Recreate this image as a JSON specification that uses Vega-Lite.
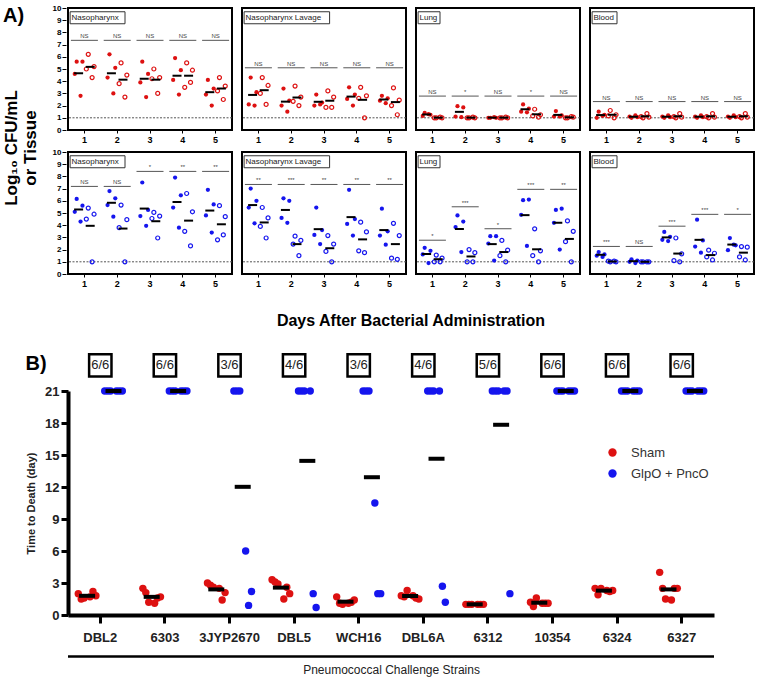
{
  "$schema": "https://vega.github.io/schema/vega-lite/v6.json",
  "padding": {"left": 3, "top": 4, "right": 4, "bottom": 2},
  "config": {
    "font": "Liberation Sans",
    "view": {"stroke": "black", "strokeWidth": 2},
    "axis": {"grid": false, "labelOverlap": false}
  },
  "datasets": {
    "panelA": [
      {"s":"top","t":"Nasopharynx","d":"1","g":"F","r":1,"v":5.6},{"s":"top","t":"Nasopharynx","d":"1","g":"F","r":2,"v":5.6},{"s":"top","t":"Nasopharynx","d":"1","g":"F","r":3,"v":4.6},{"s":"top","t":"Nasopharynx","d":"1","g":"F","r":4,"v":2.8},
      {"s":"top","t":"Nasopharynx","d":"1","g":"O","r":1,"v":6.2},{"s":"top","t":"Nasopharynx","d":"1","g":"O","r":2,"v":5.2},{"s":"top","t":"Nasopharynx","d":"1","g":"O","r":3,"v":5.0},{"s":"top","t":"Nasopharynx","d":"1","g":"O","r":4,"v":4.3},
      {"s":"top","t":"Nasopharynx","d":"2","g":"F","r":1,"v":6.2},{"s":"top","t":"Nasopharynx","d":"2","g":"F","r":2,"v":5.1},{"s":"top","t":"Nasopharynx","d":"2","g":"F","r":3,"v":4.3},{"s":"top","t":"Nasopharynx","d":"2","g":"F","r":4,"v":3.0},
      {"s":"top","t":"Nasopharynx","d":"2","g":"O","r":1,"v":5.5},{"s":"top","t":"Nasopharynx","d":"2","g":"O","r":2,"v":4.5},{"s":"top","t":"Nasopharynx","d":"2","g":"O","r":3,"v":3.8},{"s":"top","t":"Nasopharynx","d":"2","g":"O","r":4,"v":2.7},
      {"s":"top","t":"Nasopharynx","d":"3","g":"F","r":1,"v":5.6},{"s":"top","t":"Nasopharynx","d":"3","g":"F","r":2,"v":4.6},{"s":"top","t":"Nasopharynx","d":"3","g":"F","r":3,"v":3.9},{"s":"top","t":"Nasopharynx","d":"3","g":"F","r":4,"v":2.7},
      {"s":"top","t":"Nasopharynx","d":"3","g":"O","r":1,"v":5.0},{"s":"top","t":"Nasopharynx","d":"3","g":"O","r":2,"v":4.3},{"s":"top","t":"Nasopharynx","d":"3","g":"O","r":3,"v":4.2},{"s":"top","t":"Nasopharynx","d":"3","g":"O","r":4,"v":3.0},
      {"s":"top","t":"Nasopharynx","d":"4","g":"F","r":1,"v":5.9},{"s":"top","t":"Nasopharynx","d":"4","g":"F","r":2,"v":4.9},{"s":"top","t":"Nasopharynx","d":"4","g":"F","r":3,"v":4.1},{"s":"top","t":"Nasopharynx","d":"4","g":"F","r":4,"v":2.9},
      {"s":"top","t":"Nasopharynx","d":"4","g":"O","r":1,"v":5.5},{"s":"top","t":"Nasopharynx","d":"4","g":"O","r":2,"v":4.9},{"s":"top","t":"Nasopharynx","d":"4","g":"O","r":3,"v":3.5},{"s":"top","t":"Nasopharynx","d":"4","g":"O","r":4,"v":3.9},
      {"s":"top","t":"Nasopharynx","d":"5","g":"F","r":1,"v":4.1},{"s":"top","t":"Nasopharynx","d":"5","g":"F","r":2,"v":3.4},{"s":"top","t":"Nasopharynx","d":"5","g":"F","r":3,"v":2.9},{"s":"top","t":"Nasopharynx","d":"5","g":"F","r":4,"v":2.0},
      {"s":"top","t":"Nasopharynx","d":"5","g":"O","r":1,"v":4.3},{"s":"top","t":"Nasopharynx","d":"5","g":"O","r":2,"v":3.6},{"s":"top","t":"Nasopharynx","d":"5","g":"O","r":3,"v":3.2},{"s":"top","t":"Nasopharynx","d":"5","g":"O","r":4,"v":2.5},
      {"s":"top","t":"Nasopharynx","d":"1","g":"S","v":7.35,"lab":"NS"},{"s":"top","t":"Nasopharynx","d":"2","g":"S","v":7.35,"lab":"NS"},{"s":"top","t":"Nasopharynx","d":"3","g":"S","v":7.35,"lab":"NS"},{"s":"top","t":"Nasopharynx","d":"4","g":"S","v":7.35,"lab":"NS"},{"s":"top","t":"Nasopharynx","d":"5","g":"S","v":7.35,"lab":"NS"},

      {"s":"top","t":"Nasopharynx Lavage","d":"1","g":"F","r":1,"v":4.3},{"s":"top","t":"Nasopharynx Lavage","d":"1","g":"F","r":2,"v":3.1},{"s":"top","t":"Nasopharynx Lavage","d":"1","g":"F","r":3,"v":2.1},{"s":"top","t":"Nasopharynx Lavage","d":"1","g":"F","r":4,"v":2.0},
      {"s":"top","t":"Nasopharynx Lavage","d":"1","g":"O","r":1,"v":4.3},{"s":"top","t":"Nasopharynx Lavage","d":"1","g":"O","r":2,"v":3.65},{"s":"top","t":"Nasopharynx Lavage","d":"1","g":"O","r":3,"v":3.0},{"s":"top","t":"Nasopharynx Lavage","d":"1","g":"O","r":4,"v":2.1},
      {"s":"top","t":"Nasopharynx Lavage","d":"2","g":"F","r":1,"v":3.4},{"s":"top","t":"Nasopharynx Lavage","d":"2","g":"F","r":2,"v":2.4},{"s":"top","t":"Nasopharynx Lavage","d":"2","g":"F","r":3,"v":2.0},{"s":"top","t":"Nasopharynx Lavage","d":"2","g":"F","r":4,"v":1.5},
      {"s":"top","t":"Nasopharynx Lavage","d":"2","g":"O","r":1,"v":3.6},{"s":"top","t":"Nasopharynx Lavage","d":"2","g":"O","r":2,"v":2.7},{"s":"top","t":"Nasopharynx Lavage","d":"2","g":"O","r":3,"v":2.35},{"s":"top","t":"Nasopharynx Lavage","d":"2","g":"O","r":4,"v":2.0},
      {"s":"top","t":"Nasopharynx Lavage","d":"3","g":"F","r":1,"v":2.9},{"s":"top","t":"Nasopharynx Lavage","d":"3","g":"F","r":2,"v":2.25},{"s":"top","t":"Nasopharynx Lavage","d":"3","g":"F","r":3,"v":2.0},{"s":"top","t":"Nasopharynx Lavage","d":"3","g":"F","r":4,"v":2.1},
      {"s":"top","t":"Nasopharynx Lavage","d":"3","g":"O","r":1,"v":3.2},{"s":"top","t":"Nasopharynx Lavage","d":"3","g":"O","r":2,"v":2.7},{"s":"top","t":"Nasopharynx Lavage","d":"3","g":"O","r":3,"v":1.85},{"s":"top","t":"Nasopharynx Lavage","d":"3","g":"O","r":4,"v":1.85},
      {"s":"top","t":"Nasopharynx Lavage","d":"4","g":"F","r":1,"v":3.5},{"s":"top","t":"Nasopharynx Lavage","d":"4","g":"F","r":2,"v":2.9},{"s":"top","t":"Nasopharynx Lavage","d":"4","g":"F","r":3,"v":2.55},{"s":"top","t":"Nasopharynx Lavage","d":"4","g":"F","r":4,"v":2.0},
      {"s":"top","t":"Nasopharynx Lavage","d":"4","g":"O","r":1,"v":3.5},{"s":"top","t":"Nasopharynx Lavage","d":"4","g":"O","r":2,"v":2.8},{"s":"top","t":"Nasopharynx Lavage","d":"4","g":"O","r":3,"v":2.6},{"s":"top","t":"Nasopharynx Lavage","d":"4","g":"O","r":4,"v":1.0},
      {"s":"top","t":"Nasopharynx Lavage","d":"5","g":"F","r":1,"v":2.8},{"s":"top","t":"Nasopharynx Lavage","d":"5","g":"F","r":2,"v":2.6},{"s":"top","t":"Nasopharynx Lavage","d":"5","g":"F","r":3,"v":2.4},{"s":"top","t":"Nasopharynx Lavage","d":"5","g":"F","r":4,"v":2.2},
      {"s":"top","t":"Nasopharynx Lavage","d":"5","g":"O","r":1,"v":3.45},{"s":"top","t":"Nasopharynx Lavage","d":"5","g":"O","r":2,"v":2.45},{"s":"top","t":"Nasopharynx Lavage","d":"5","g":"O","r":3,"v":2.0},{"s":"top","t":"Nasopharynx Lavage","d":"5","g":"O","r":4,"v":1.25},
      {"s":"top","t":"Nasopharynx Lavage","d":"1","g":"S","v":5.1,"lab":"NS"},{"s":"top","t":"Nasopharynx Lavage","d":"2","g":"S","v":5.1,"lab":"NS"},{"s":"top","t":"Nasopharynx Lavage","d":"3","g":"S","v":5.1,"lab":"NS"},{"s":"top","t":"Nasopharynx Lavage","d":"4","g":"S","v":5.1,"lab":"NS"},{"s":"top","t":"Nasopharynx Lavage","d":"5","g":"S","v":5.1,"lab":"NS"},

      {"s":"top","t":"Lung","d":"1","g":"F","r":1,"v":1.4},{"s":"top","t":"Lung","d":"1","g":"F","r":2,"v":1.25},{"s":"top","t":"Lung","d":"1","g":"F","r":3,"v":1.15},{"s":"top","t":"Lung","d":"1","g":"F","r":4,"v":1.3},
      {"s":"top","t":"Lung","d":"1","g":"O","r":1,"v":1.0},{"s":"top","t":"Lung","d":"1","g":"O","r":2,"v":1.0},{"s":"top","t":"Lung","d":"1","g":"O","r":3,"v":1.0},{"s":"top","t":"Lung","d":"1","g":"O","r":4,"v":1.05},
      {"s":"top","t":"Lung","d":"2","g":"F","r":1,"v":1.95},{"s":"top","t":"Lung","d":"2","g":"F","r":2,"v":1.85},{"s":"top","t":"Lung","d":"2","g":"F","r":3,"v":1.1},{"s":"top","t":"Lung","d":"2","g":"F","r":4,"v":1.05},
      {"s":"top","t":"Lung","d":"2","g":"O","r":1,"v":1.0},{"s":"top","t":"Lung","d":"2","g":"O","r":2,"v":1.0},{"s":"top","t":"Lung","d":"2","g":"O","r":3,"v":1.0},{"s":"top","t":"Lung","d":"2","g":"O","r":4,"v":1.05},
      {"s":"top","t":"Lung","d":"3","g":"F","r":1,"v":1.0},{"s":"top","t":"Lung","d":"3","g":"F","r":2,"v":1.0},{"s":"top","t":"Lung","d":"3","g":"F","r":3,"v":1.0},{"s":"top","t":"Lung","d":"3","g":"F","r":4,"v":1.05},
      {"s":"top","t":"Lung","d":"3","g":"O","r":1,"v":1.0},{"s":"top","t":"Lung","d":"3","g":"O","r":2,"v":1.0},{"s":"top","t":"Lung","d":"3","g":"O","r":3,"v":1.0},{"s":"top","t":"Lung","d":"3","g":"O","r":4,"v":1.05},
      {"s":"top","t":"Lung","d":"4","g":"F","r":1,"v":2.1},{"s":"top","t":"Lung","d":"4","g":"F","r":2,"v":1.75},{"s":"top","t":"Lung","d":"4","g":"F","r":3,"v":1.5},{"s":"top","t":"Lung","d":"4","g":"F","r":4,"v":1.45},
      {"s":"top","t":"Lung","d":"4","g":"O","r":1,"v":1.7},{"s":"top","t":"Lung","d":"4","g":"O","r":2,"v":1.25},{"s":"top","t":"Lung","d":"4","g":"O","r":3,"v":1.15},{"s":"top","t":"Lung","d":"4","g":"O","r":4,"v":1.05},
      {"s":"top","t":"Lung","d":"5","g":"F","r":1,"v":1.55},{"s":"top","t":"Lung","d":"5","g":"F","r":2,"v":1.2},{"s":"top","t":"Lung","d":"5","g":"F","r":3,"v":1.1},{"s":"top","t":"Lung","d":"5","g":"F","r":4,"v":1.1},
      {"s":"top","t":"Lung","d":"5","g":"O","r":1,"v":1.0},{"s":"top","t":"Lung","d":"5","g":"O","r":2,"v":1.05},{"s":"top","t":"Lung","d":"5","g":"O","r":3,"v":1.0},{"s":"top","t":"Lung","d":"5","g":"O","r":4,"v":1.1},
      {"s":"top","t":"Lung","d":"1","g":"S","v":2.78,"lab":"NS"},{"s":"top","t":"Lung","d":"2","g":"S","v":2.78,"lab":"*"},{"s":"top","t":"Lung","d":"3","g":"S","v":2.78,"lab":"NS"},{"s":"top","t":"Lung","d":"4","g":"S","v":2.78,"lab":"*"},{"s":"top","t":"Lung","d":"5","g":"S","v":2.78,"lab":"NS"},

      {"s":"top","t":"Blood","d":"1","g":"F","r":1,"v":1.5},{"s":"top","t":"Blood","d":"1","g":"F","r":2,"v":1.25},{"s":"top","t":"Blood","d":"1","g":"F","r":3,"v":1.0},{"s":"top","t":"Blood","d":"1","g":"F","r":4,"v":1.15},
      {"s":"top","t":"Blood","d":"1","g":"O","r":1,"v":1.6},{"s":"top","t":"Blood","d":"1","g":"O","r":2,"v":1.25},{"s":"top","t":"Blood","d":"1","g":"O","r":3,"v":1.15},{"s":"top","t":"Blood","d":"1","g":"O","r":4,"v":1.0},
      {"s":"top","t":"Blood","d":"2","g":"F","r":1,"v":1.0},{"s":"top","t":"Blood","d":"2","g":"F","r":2,"v":1.05},{"s":"top","t":"Blood","d":"2","g":"F","r":3,"v":1.1},{"s":"top","t":"Blood","d":"2","g":"F","r":4,"v":1.2},
      {"s":"top","t":"Blood","d":"2","g":"O","r":1,"v":1.0},{"s":"top","t":"Blood","d":"2","g":"O","r":2,"v":1.05},{"s":"top","t":"Blood","d":"2","g":"O","r":3,"v":1.1},{"s":"top","t":"Blood","d":"2","g":"O","r":4,"v":1.35},
      {"s":"top","t":"Blood","d":"3","g":"F","r":1,"v":1.0},{"s":"top","t":"Blood","d":"3","g":"F","r":2,"v":1.05},{"s":"top","t":"Blood","d":"3","g":"F","r":3,"v":1.1},{"s":"top","t":"Blood","d":"3","g":"F","r":4,"v":1.2},
      {"s":"top","t":"Blood","d":"3","g":"O","r":1,"v":1.0},{"s":"top","t":"Blood","d":"3","g":"O","r":2,"v":1.05},{"s":"top","t":"Blood","d":"3","g":"O","r":3,"v":1.1},{"s":"top","t":"Blood","d":"3","g":"O","r":4,"v":1.35},
      {"s":"top","t":"Blood","d":"4","g":"F","r":1,"v":1.0},{"s":"top","t":"Blood","d":"4","g":"F","r":2,"v":1.05},{"s":"top","t":"Blood","d":"4","g":"F","r":3,"v":1.1},{"s":"top","t":"Blood","d":"4","g":"F","r":4,"v":1.2},
      {"s":"top","t":"Blood","d":"4","g":"O","r":1,"v":1.0},{"s":"top","t":"Blood","d":"4","g":"O","r":2,"v":1.05},{"s":"top","t":"Blood","d":"4","g":"O","r":3,"v":1.1},{"s":"top","t":"Blood","d":"4","g":"O","r":4,"v":1.35},
      {"s":"top","t":"Blood","d":"5","g":"F","r":1,"v":1.0},{"s":"top","t":"Blood","d":"5","g":"F","r":2,"v":1.05},{"s":"top","t":"Blood","d":"5","g":"F","r":3,"v":1.1},{"s":"top","t":"Blood","d":"5","g":"F","r":4,"v":1.2},
      {"s":"top","t":"Blood","d":"5","g":"O","r":1,"v":1.0},{"s":"top","t":"Blood","d":"5","g":"O","r":2,"v":1.05},{"s":"top","t":"Blood","d":"5","g":"O","r":3,"v":1.1},{"s":"top","t":"Blood","d":"5","g":"O","r":4,"v":1.35},
      {"s":"top","t":"Blood","d":"1","g":"S","v":2.33,"lab":"NS"},{"s":"top","t":"Blood","d":"2","g":"S","v":2.33,"lab":"NS"},{"s":"top","t":"Blood","d":"3","g":"S","v":2.33,"lab":"NS"},{"s":"top","t":"Blood","d":"4","g":"S","v":2.33,"lab":"NS"},{"s":"top","t":"Blood","d":"5","g":"S","v":2.33,"lab":"NS"},

      {"s":"bot","t":"Nasopharynx","d":"1","g":"F","r":1,"v":6.15},{"s":"bot","t":"Nasopharynx","d":"1","g":"F","r":2,"v":5.6},{"s":"bot","t":"Nasopharynx","d":"1","g":"F","r":3,"v":5.1},{"s":"bot","t":"Nasopharynx","d":"1","g":"F","r":4,"v":4.3},
      {"s":"bot","t":"Nasopharynx","d":"1","g":"O","r":1,"v":5.4},{"s":"bot","t":"Nasopharynx","d":"1","g":"O","r":2,"v":4.9},{"s":"bot","t":"Nasopharynx","d":"1","g":"O","r":3,"v":4.5},{"s":"bot","t":"Nasopharynx","d":"1","g":"O","r":4,"v":1.0},
      {"s":"bot","t":"Nasopharynx","d":"2","g":"F","r":1,"v":6.8},{"s":"bot","t":"Nasopharynx","d":"2","g":"F","r":2,"v":6.2},{"s":"bot","t":"Nasopharynx","d":"2","g":"F","r":3,"v":5.65},{"s":"bot","t":"Nasopharynx","d":"2","g":"F","r":4,"v":4.7},
      {"s":"bot","t":"Nasopharynx","d":"2","g":"O","r":1,"v":5.65},{"s":"bot","t":"Nasopharynx","d":"2","g":"O","r":2,"v":4.45},{"s":"bot","t":"Nasopharynx","d":"2","g":"O","r":3,"v":3.8},{"s":"bot","t":"Nasopharynx","d":"2","g":"O","r":4,"v":1.0},
      {"s":"bot","t":"Nasopharynx","d":"3","g":"F","r":1,"v":7.5},{"s":"bot","t":"Nasopharynx","d":"3","g":"F","r":2,"v":5.25},{"s":"bot","t":"Nasopharynx","d":"3","g":"F","r":3,"v":4.75},{"s":"bot","t":"Nasopharynx","d":"3","g":"F","r":4,"v":3.95},
      {"s":"bot","t":"Nasopharynx","d":"3","g":"O","r":1,"v":5.05},{"s":"bot","t":"Nasopharynx","d":"3","g":"O","r":2,"v":4.75},{"s":"bot","t":"Nasopharynx","d":"3","g":"O","r":3,"v":4.55},{"s":"bot","t":"Nasopharynx","d":"3","g":"O","r":4,"v":2.95},
      {"s":"bot","t":"Nasopharynx","d":"4","g":"F","r":1,"v":7.9},{"s":"bot","t":"Nasopharynx","d":"4","g":"F","r":2,"v":6.45},{"s":"bot","t":"Nasopharynx","d":"4","g":"F","r":3,"v":5.45},{"s":"bot","t":"Nasopharynx","d":"4","g":"F","r":4,"v":3.8},
      {"s":"bot","t":"Nasopharynx","d":"4","g":"O","r":1,"v":6.6},{"s":"bot","t":"Nasopharynx","d":"4","g":"O","r":2,"v":5.1},{"s":"bot","t":"Nasopharynx","d":"4","g":"O","r":3,"v":3.5},{"s":"bot","t":"Nasopharynx","d":"4","g":"O","r":4,"v":2.3},
      {"s":"bot","t":"Nasopharynx","d":"5","g":"F","r":1,"v":6.9},{"s":"bot","t":"Nasopharynx","d":"5","g":"F","r":2,"v":5.7},{"s":"bot","t":"Nasopharynx","d":"5","g":"F","r":3,"v":4.8},{"s":"bot","t":"Nasopharynx","d":"5","g":"F","r":4,"v":3.4},
      {"s":"bot","t":"Nasopharynx","d":"5","g":"O","r":1,"v":5.6},{"s":"bot","t":"Nasopharynx","d":"5","g":"O","r":2,"v":4.7},{"s":"bot","t":"Nasopharynx","d":"5","g":"O","r":3,"v":2.8},{"s":"bot","t":"Nasopharynx","d":"5","g":"O","r":4,"v":3.2},
      {"s":"bot","t":"Nasopharynx","d":"1","g":"S","v":7.18,"lab":"NS"},{"s":"bot","t":"Nasopharynx","d":"2","g":"S","v":7.18,"lab":"NS"},{"s":"bot","t":"Nasopharynx","d":"3","g":"S","v":8.41,"lab":"*"},{"s":"bot","t":"Nasopharynx","d":"4","g":"S","v":8.41,"lab":"**"},{"s":"bot","t":"Nasopharynx","d":"5","g":"S","v":8.41,"lab":"**"},

      {"s":"bot","t":"Nasopharynx Lavage","d":"1","g":"F","r":1,"v":7.0},{"s":"bot","t":"Nasopharynx Lavage","d":"1","g":"F","r":2,"v":6.0},{"s":"bot","t":"Nasopharynx Lavage","d":"1","g":"F","r":3,"v":5.45},{"s":"bot","t":"Nasopharynx Lavage","d":"1","g":"F","r":4,"v":4.15},
      {"s":"bot","t":"Nasopharynx Lavage","d":"1","g":"O","r":1,"v":5.45},{"s":"bot","t":"Nasopharynx Lavage","d":"1","g":"O","r":2,"v":4.6},{"s":"bot","t":"Nasopharynx Lavage","d":"1","g":"O","r":3,"v":3.9},{"s":"bot","t":"Nasopharynx Lavage","d":"1","g":"O","r":4,"v":2.95},
      {"s":"bot","t":"Nasopharynx Lavage","d":"2","g":"F","r":1,"v":6.2},{"s":"bot","t":"Nasopharynx Lavage","d":"2","g":"F","r":2,"v":6.0},{"s":"bot","t":"Nasopharynx Lavage","d":"2","g":"F","r":3,"v":4.6},{"s":"bot","t":"Nasopharynx Lavage","d":"2","g":"F","r":4,"v":4.2},
      {"s":"bot","t":"Nasopharynx Lavage","d":"2","g":"O","r":1,"v":3.1},{"s":"bot","t":"Nasopharynx Lavage","d":"2","g":"O","r":2,"v":2.75},{"s":"bot","t":"Nasopharynx Lavage","d":"2","g":"O","r":3,"v":2.45},{"s":"bot","t":"Nasopharynx Lavage","d":"2","g":"O","r":4,"v":1.5},
      {"s":"bot","t":"Nasopharynx Lavage","d":"3","g":"F","r":1,"v":5.45},{"s":"bot","t":"Nasopharynx Lavage","d":"3","g":"F","r":2,"v":3.6},{"s":"bot","t":"Nasopharynx Lavage","d":"3","g":"F","r":3,"v":3.2},{"s":"bot","t":"Nasopharynx Lavage","d":"3","g":"F","r":4,"v":2.45},
      {"s":"bot","t":"Nasopharynx Lavage","d":"3","g":"O","r":1,"v":3.15},{"s":"bot","t":"Nasopharynx Lavage","d":"3","g":"O","r":2,"v":2.45},{"s":"bot","t":"Nasopharynx Lavage","d":"3","g":"O","r":3,"v":1.85},{"s":"bot","t":"Nasopharynx Lavage","d":"3","g":"O","r":4,"v":1.0},
      {"s":"bot","t":"Nasopharynx Lavage","d":"4","g":"F","r":1,"v":6.9},{"s":"bot","t":"Nasopharynx Lavage","d":"4","g":"F","r":2,"v":4.5},{"s":"bot","t":"Nasopharynx Lavage","d":"4","g":"F","r":3,"v":4.1},{"s":"bot","t":"Nasopharynx Lavage","d":"4","g":"F","r":4,"v":3.15},
      {"s":"bot","t":"Nasopharynx Lavage","d":"4","g":"O","r":1,"v":4.25},{"s":"bot","t":"Nasopharynx Lavage","d":"4","g":"O","r":2,"v":3.45},{"s":"bot","t":"Nasopharynx Lavage","d":"4","g":"O","r":3,"v":1.9},{"s":"bot","t":"Nasopharynx Lavage","d":"4","g":"O","r":4,"v":1.75},
      {"s":"bot","t":"Nasopharynx Lavage","d":"5","g":"F","r":1,"v":5.35},{"s":"bot","t":"Nasopharynx Lavage","d":"5","g":"F","r":2,"v":3.5},{"s":"bot","t":"Nasopharynx Lavage","d":"5","g":"F","r":3,"v":3.15},{"s":"bot","t":"Nasopharynx Lavage","d":"5","g":"F","r":4,"v":2.4},
      {"s":"bot","t":"Nasopharynx Lavage","d":"5","g":"O","r":1,"v":4.15},{"s":"bot","t":"Nasopharynx Lavage","d":"5","g":"O","r":2,"v":3.15},{"s":"bot","t":"Nasopharynx Lavage","d":"5","g":"O","r":3,"v":1.3},{"s":"bot","t":"Nasopharynx Lavage","d":"5","g":"O","r":4,"v":1.2},
      {"s":"bot","t":"Nasopharynx Lavage","d":"1","g":"S","v":7.34,"lab":"**"},{"s":"bot","t":"Nasopharynx Lavage","d":"2","g":"S","v":7.34,"lab":"***"},{"s":"bot","t":"Nasopharynx Lavage","d":"3","g":"S","v":7.34,"lab":"**"},{"s":"bot","t":"Nasopharynx Lavage","d":"4","g":"S","v":7.34,"lab":"**"},{"s":"bot","t":"Nasopharynx Lavage","d":"5","g":"S","v":7.34,"lab":"**"},

      {"s":"bot","t":"Lung","d":"1","g":"F","r":1,"v":2.15},{"s":"bot","t":"Lung","d":"1","g":"F","r":2,"v":1.9},{"s":"bot","t":"Lung","d":"1","g":"F","r":3,"v":1.6},{"s":"bot","t":"Lung","d":"1","g":"F","r":4,"v":0.9},
      {"s":"bot","t":"Lung","d":"1","g":"O","r":1,"v":1.55},{"s":"bot","t":"Lung","d":"1","g":"O","r":2,"v":1.3},{"s":"bot","t":"Lung","d":"1","g":"O","r":3,"v":1.0},{"s":"bot","t":"Lung","d":"1","g":"O","r":4,"v":1.0},
      {"s":"bot","t":"Lung","d":"2","g":"F","r":1,"v":4.8},{"s":"bot","t":"Lung","d":"2","g":"F","r":2,"v":4.3},{"s":"bot","t":"Lung","d":"2","g":"F","r":3,"v":3.85},{"s":"bot","t":"Lung","d":"2","g":"F","r":4,"v":1.8},
      {"s":"bot","t":"Lung","d":"2","g":"O","r":1,"v":2.0},{"s":"bot","t":"Lung","d":"2","g":"O","r":2,"v":1.75},{"s":"bot","t":"Lung","d":"2","g":"O","r":3,"v":1.0},{"s":"bot","t":"Lung","d":"2","g":"O","r":4,"v":1.0},
      {"s":"bot","t":"Lung","d":"3","g":"F","r":1,"v":3.1},{"s":"bot","t":"Lung","d":"3","g":"F","r":2,"v":3.1},{"s":"bot","t":"Lung","d":"3","g":"F","r":3,"v":2.5},{"s":"bot","t":"Lung","d":"3","g":"F","r":4,"v":1.1},
      {"s":"bot","t":"Lung","d":"3","g":"O","r":1,"v":2.75},{"s":"bot","t":"Lung","d":"3","g":"O","r":2,"v":1.95},{"s":"bot","t":"Lung","d":"3","g":"O","r":3,"v":1.5},{"s":"bot","t":"Lung","d":"3","g":"O","r":4,"v":1.0},
      {"s":"bot","t":"Lung","d":"4","g":"F","r":1,"v":6.05},{"s":"bot","t":"Lung","d":"4","g":"F","r":2,"v":6.1},{"s":"bot","t":"Lung","d":"4","g":"F","r":3,"v":4.85},{"s":"bot","t":"Lung","d":"4","g":"F","r":4,"v":2.3},
      {"s":"bot","t":"Lung","d":"4","g":"O","r":1,"v":3.7},{"s":"bot","t":"Lung","d":"4","g":"O","r":2,"v":1.9},{"s":"bot","t":"Lung","d":"4","g":"O","r":3,"v":1.5},{"s":"bot","t":"Lung","d":"4","g":"O","r":4,"v":1.0},
      {"s":"bot","t":"Lung","d":"5","g":"F","r":1,"v":5.25},{"s":"bot","t":"Lung","d":"5","g":"F","r":2,"v":5.35},{"s":"bot","t":"Lung","d":"5","g":"F","r":3,"v":4.2},{"s":"bot","t":"Lung","d":"5","g":"F","r":4,"v":2.0},
      {"s":"bot","t":"Lung","d":"5","g":"O","r":1,"v":4.35},{"s":"bot","t":"Lung","d":"5","g":"O","r":2,"v":3.5},{"s":"bot","t":"Lung","d":"5","g":"O","r":3,"v":2.65},{"s":"bot","t":"Lung","d":"5","g":"O","r":4,"v":1.0},
      {"s":"bot","t":"Lung","d":"1","g":"S","v":2.77,"lab":"*"},{"s":"bot","t":"Lung","d":"2","g":"S","v":5.51,"lab":"***"},{"s":"bot","t":"Lung","d":"3","g":"S","v":3.71,"lab":"*"},{"s":"bot","t":"Lung","d":"4","g":"S","v":6.94,"lab":"***"},{"s":"bot","t":"Lung","d":"5","g":"S","v":6.94,"lab":"**"},

      {"s":"bot","t":"Blood","d":"1","g":"F","r":1,"v":1.8},{"s":"bot","t":"Blood","d":"1","g":"F","r":2,"v":1.6},{"s":"bot","t":"Blood","d":"1","g":"F","r":3,"v":1.5},{"s":"bot","t":"Blood","d":"1","g":"F","r":4,"v":1.4},
      {"s":"bot","t":"Blood","d":"1","g":"O","r":1,"v":1.0},{"s":"bot","t":"Blood","d":"1","g":"O","r":2,"v":1.0},{"s":"bot","t":"Blood","d":"1","g":"O","r":3,"v":1.05},{"s":"bot","t":"Blood","d":"1","g":"O","r":4,"v":1.05},
      {"s":"bot","t":"Blood","d":"2","g":"F","r":1,"v":1.2},{"s":"bot","t":"Blood","d":"2","g":"F","r":2,"v":1.1},{"s":"bot","t":"Blood","d":"2","g":"F","r":3,"v":1.0},{"s":"bot","t":"Blood","d":"2","g":"F","r":4,"v":0.9},
      {"s":"bot","t":"Blood","d":"2","g":"O","r":1,"v":1.0},{"s":"bot","t":"Blood","d":"2","g":"O","r":2,"v":1.0},{"s":"bot","t":"Blood","d":"2","g":"O","r":3,"v":1.0},{"s":"bot","t":"Blood","d":"2","g":"O","r":4,"v":1.0},
      {"s":"bot","t":"Blood","d":"3","g":"F","r":1,"v":3.45},{"s":"bot","t":"Blood","d":"3","g":"F","r":2,"v":3.05},{"s":"bot","t":"Blood","d":"3","g":"F","r":3,"v":2.8},{"s":"bot","t":"Blood","d":"3","g":"F","r":4,"v":2.7},
      {"s":"bot","t":"Blood","d":"3","g":"O","r":1,"v":2.95},{"s":"bot","t":"Blood","d":"3","g":"O","r":2,"v":1.65},{"s":"bot","t":"Blood","d":"3","g":"O","r":3,"v":1.1},{"s":"bot","t":"Blood","d":"3","g":"O","r":4,"v":1.0},
      {"s":"bot","t":"Blood","d":"4","g":"F","r":1,"v":4.45},{"s":"bot","t":"Blood","d":"4","g":"F","r":2,"v":2.75},{"s":"bot","t":"Blood","d":"4","g":"F","r":3,"v":2.25},{"s":"bot","t":"Blood","d":"4","g":"F","r":4,"v":1.75},
      {"s":"bot","t":"Blood","d":"4","g":"O","r":1,"v":1.95},{"s":"bot","t":"Blood","d":"4","g":"O","r":2,"v":1.7},{"s":"bot","t":"Blood","d":"4","g":"O","r":3,"v":1.4},{"s":"bot","t":"Blood","d":"4","g":"O","r":4,"v":1.15},
      {"s":"bot","t":"Blood","d":"5","g":"F","r":1,"v":2.95},{"s":"bot","t":"Blood","d":"5","g":"F","r":2,"v":2.35},{"s":"bot","t":"Blood","d":"5","g":"F","r":3,"v":1.95},{"s":"bot","t":"Blood","d":"5","g":"F","r":4,"v":2.4},
      {"s":"bot","t":"Blood","d":"5","g":"O","r":1,"v":2.25},{"s":"bot","t":"Blood","d":"5","g":"O","r":2,"v":2.2},{"s":"bot","t":"Blood","d":"5","g":"O","r":3,"v":1.4},{"s":"bot","t":"Blood","d":"5","g":"O","r":4,"v":1.15},
      {"s":"bot","t":"Blood","d":"1","g":"S","v":2.26,"lab":"***"},{"s":"bot","t":"Blood","d":"2","g":"S","v":2.26,"lab":"NS"},{"s":"bot","t":"Blood","d":"3","g":"S","v":3.92,"lab":"***"},{"s":"bot","t":"Blood","d":"4","g":"S","v":4.89,"lab":"***"},{"s":"bot","t":"Blood","d":"5","g":"S","v":4.89,"lab":"*"}
    ],
    "deaths": [
      {"strain":"DBL2","grp":"Sham","a":1,"t":2.0},{"strain":"DBL2","grp":"Sham","a":2,"t":1.5},{"strain":"DBL2","grp":"Sham","a":3,"t":1.6},{"strain":"DBL2","grp":"Sham","a":4,"t":1.7},{"strain":"DBL2","grp":"Sham","a":5,"t":2.2},{"strain":"DBL2","grp":"Sham","a":6,"t":1.8},
      {"strain":"DBL2","grp":"GlpO + PncO","a":1,"t":21},{"strain":"DBL2","grp":"GlpO + PncO","a":2,"t":21},{"strain":"DBL2","grp":"GlpO + PncO","a":3,"t":21},{"strain":"DBL2","grp":"GlpO + PncO","a":4,"t":21},{"strain":"DBL2","grp":"GlpO + PncO","a":5,"t":21},{"strain":"DBL2","grp":"GlpO + PncO","a":6,"t":21},
      {"strain":"6303","grp":"Sham","a":1,"t":2.5},{"strain":"6303","grp":"Sham","a":2,"t":2.1},{"strain":"6303","grp":"Sham","a":3,"t":1.2},{"strain":"6303","grp":"Sham","a":4,"t":1.1},{"strain":"6303","grp":"Sham","a":5,"t":1.6},{"strain":"6303","grp":"Sham","a":6,"t":1.7},
      {"strain":"6303","grp":"GlpO + PncO","a":1,"t":21},{"strain":"6303","grp":"GlpO + PncO","a":2,"t":21},{"strain":"6303","grp":"GlpO + PncO","a":3,"t":21},{"strain":"6303","grp":"GlpO + PncO","a":4,"t":21},{"strain":"6303","grp":"GlpO + PncO","a":5,"t":21},{"strain":"6303","grp":"GlpO + PncO","a":6,"t":21},
      {"strain":"3JYP2670","grp":"Sham","a":1,"t":3.0},{"strain":"3JYP2670","grp":"Sham","a":2,"t":2.8},{"strain":"3JYP2670","grp":"Sham","a":3,"t":2.6},{"strain":"3JYP2670","grp":"Sham","a":4,"t":2.5},{"strain":"3JYP2670","grp":"Sham","a":5,"t":1.4},{"strain":"3JYP2670","grp":"Sham","a":6,"t":2.1},
      {"strain":"3JYP2670","grp":"GlpO + PncO","a":1,"t":21},{"strain":"3JYP2670","grp":"GlpO + PncO","a":2,"t":21},{"strain":"3JYP2670","grp":"GlpO + PncO","a":3,"t":21},{"strain":"3JYP2670","grp":"GlpO + PncO","a":4,"t":6.0},{"strain":"3JYP2670","grp":"GlpO + PncO","a":5,"t":0.9},{"strain":"3JYP2670","grp":"GlpO + PncO","a":6,"t":2.2},
      {"strain":"DBL5","grp":"Sham","a":1,"t":3.3},{"strain":"DBL5","grp":"Sham","a":2,"t":3.1},{"strain":"DBL5","grp":"Sham","a":3,"t":2.9},{"strain":"DBL5","grp":"Sham","a":4,"t":1.5},{"strain":"DBL5","grp":"Sham","a":5,"t":2.6},{"strain":"DBL5","grp":"Sham","a":6,"t":2.0},
      {"strain":"DBL5","grp":"GlpO + PncO","a":1,"t":21},{"strain":"DBL5","grp":"GlpO + PncO","a":2,"t":21},{"strain":"DBL5","grp":"GlpO + PncO","a":3,"t":21},{"strain":"DBL5","grp":"GlpO + PncO","a":4,"t":21},{"strain":"DBL5","grp":"GlpO + PncO","a":5,"t":2.0},{"strain":"DBL5","grp":"GlpO + PncO","a":6,"t":0.7},
      {"strain":"WCH16","grp":"Sham","a":1,"t":1.7},{"strain":"WCH16","grp":"Sham","a":2,"t":1.1},{"strain":"WCH16","grp":"Sham","a":3,"t":1.0},{"strain":"WCH16","grp":"Sham","a":4,"t":1.1},{"strain":"WCH16","grp":"Sham","a":5,"t":1.2},{"strain":"WCH16","grp":"Sham","a":6,"t":1.4},
      {"strain":"WCH16","grp":"GlpO + PncO","a":1,"t":21},{"strain":"WCH16","grp":"GlpO + PncO","a":2,"t":21},{"strain":"WCH16","grp":"GlpO + PncO","a":3,"t":21},{"strain":"WCH16","grp":"GlpO + PncO","a":4,"t":10.5},{"strain":"WCH16","grp":"GlpO + PncO","a":5,"t":2.0},{"strain":"WCH16","grp":"GlpO + PncO","a":6,"t":2.0},
      {"strain":"DBL6A","grp":"Sham","a":1,"t":1.8},{"strain":"DBL6A","grp":"Sham","a":2,"t":1.7},{"strain":"DBL6A","grp":"Sham","a":3,"t":2.3},{"strain":"DBL6A","grp":"Sham","a":4,"t":1.8},{"strain":"DBL6A","grp":"Sham","a":5,"t":1.6},{"strain":"DBL6A","grp":"Sham","a":6,"t":1.5},
      {"strain":"DBL6A","grp":"GlpO + PncO","a":1,"t":21},{"strain":"DBL6A","grp":"GlpO + PncO","a":2,"t":21},{"strain":"DBL6A","grp":"GlpO + PncO","a":3,"t":21},{"strain":"DBL6A","grp":"GlpO + PncO","a":4,"t":21},{"strain":"DBL6A","grp":"GlpO + PncO","a":5,"t":2.7},{"strain":"DBL6A","grp":"GlpO + PncO","a":6,"t":1.2},
      {"strain":"6312","grp":"Sham","a":1,"t":1.0},{"strain":"6312","grp":"Sham","a":2,"t":1.0},{"strain":"6312","grp":"Sham","a":3,"t":1.0},{"strain":"6312","grp":"Sham","a":4,"t":1.0},{"strain":"6312","grp":"Sham","a":5,"t":1.0},{"strain":"6312","grp":"Sham","a":6,"t":1.0},
      {"strain":"6312","grp":"GlpO + PncO","a":1,"t":21},{"strain":"6312","grp":"GlpO + PncO","a":2,"t":21},{"strain":"6312","grp":"GlpO + PncO","a":3,"t":21},{"strain":"6312","grp":"GlpO + PncO","a":4,"t":21},{"strain":"6312","grp":"GlpO + PncO","a":5,"t":21},{"strain":"6312","grp":"GlpO + PncO","a":6,"t":2.0},
      {"strain":"10354","grp":"Sham","a":1,"t":1.2},{"strain":"10354","grp":"Sham","a":2,"t":0.8},{"strain":"10354","grp":"Sham","a":3,"t":1.6},{"strain":"10354","grp":"Sham","a":4,"t":1.1},{"strain":"10354","grp":"Sham","a":5,"t":1.1},{"strain":"10354","grp":"Sham","a":6,"t":1.1},
      {"strain":"10354","grp":"GlpO + PncO","a":1,"t":21},{"strain":"10354","grp":"GlpO + PncO","a":2,"t":21},{"strain":"10354","grp":"GlpO + PncO","a":3,"t":21},{"strain":"10354","grp":"GlpO + PncO","a":4,"t":21},{"strain":"10354","grp":"GlpO + PncO","a":5,"t":21},{"strain":"10354","grp":"GlpO + PncO","a":6,"t":21},
      {"strain":"6324","grp":"Sham","a":1,"t":2.5},{"strain":"6324","grp":"Sham","a":2,"t":1.9},{"strain":"6324","grp":"Sham","a":3,"t":2.5},{"strain":"6324","grp":"Sham","a":4,"t":2.3},{"strain":"6324","grp":"Sham","a":5,"t":2.2},{"strain":"6324","grp":"Sham","a":6,"t":2.3},
      {"strain":"6324","grp":"GlpO + PncO","a":1,"t":21},{"strain":"6324","grp":"GlpO + PncO","a":2,"t":21},{"strain":"6324","grp":"GlpO + PncO","a":3,"t":21},{"strain":"6324","grp":"GlpO + PncO","a":4,"t":21},{"strain":"6324","grp":"GlpO + PncO","a":5,"t":21},{"strain":"6324","grp":"GlpO + PncO","a":6,"t":21},
      {"strain":"6327","grp":"Sham","a":1,"t":4.0},{"strain":"6327","grp":"Sham","a":2,"t":2.5},{"strain":"6327","grp":"Sham","a":3,"t":1.5},{"strain":"6327","grp":"Sham","a":4,"t":1.4},{"strain":"6327","grp":"Sham","a":5,"t":2.5},{"strain":"6327","grp":"Sham","a":6,"t":2.5},
      {"strain":"6327","grp":"GlpO + PncO","a":1,"t":21},{"strain":"6327","grp":"GlpO + PncO","a":2,"t":21},{"strain":"6327","grp":"GlpO + PncO","a":3,"t":21},{"strain":"6327","grp":"GlpO + PncO","a":4,"t":21},{"strain":"6327","grp":"GlpO + PncO","a":5,"t":21},{"strain":"6327","grp":"GlpO + PncO","a":6,"t":21}
    ],
    "surv": [
      {"strain":"DBL2","surv":"6/6"},{"strain":"6303","surv":"6/6"},{"strain":"3JYP2670","surv":"3/6"},{"strain":"DBL5","surv":"4/6"},{"strain":"WCH16","surv":"3/6"},
      {"strain":"DBL6A","surv":"4/6"},{"strain":"6312","surv":"5/6"},{"strain":"10354","surv":"6/6"},{"strain":"6324","surv":"6/6"},{"strain":"6327","surv":"6/6"}
    ]
  },
  "vconcat": [
    {
      "data": {"name": "panelA"},
      "title": {"text": "A)", "anchor": "start", "frame": "bounds", "offset": -22, "fontSize": 20, "fontWeight": "bold", "color": "black"},
      "facet": {
        "row": {"field": "s", "type": "nominal", "sort": ["top", "bot"],
          "header": {"labels": false, "title": ["Log₁₀ CFU/mL", "or Tissue"], "titleFontSize": 17, "titleFontWeight": "bold", "titlePadding": 2, "titleLineHeight": 19, "titleColor": "black"}},
        "column": {"field": "t", "type": "nominal", "sort": ["Nasopharynx", "Nasopharynx Lavage", "Lung", "Blood"],
          "header": {"labels": false, "title": "Days After Bacterial Administration", "titleOrient": "bottom", "titleFontSize": 16, "titleFontWeight": "bold", "titlePadding": 14, "titleColor": "black"}}
      },
      "spacing": {"row": 6, "column": 6},
      "resolve": {"axis": {"x": "independent"}},
      "spec": {
        "width": 164,
        "height": 122,
        "layer": [
          {
            "transform": [{"filter": "datum.g == 'S' && datum.d == '1'"}],
            "mark": {"type": "rule", "color": "#555555", "strokeDash": [2, 1.5], "strokeWidth": 1},
            "encoding": {"y": {"datum": 1, "type": "quantitative", "scale": {"domain": [0, 10], "nice": false}, "axis": {"title": null, "values": [0,1,2,3,4,5,6,7,8,9,10], "format": "d", "tickCount": 20, "labelFontSize": 8, "labelFontWeight": "bold", "labelColor": "black", "tickSize": 4, "tickColor": "black", "domain": false, "labelPadding": 1, "labelOverlap": false}}}
          },
          {
            "transform": [{"filter": "datum.g == 'S'"}],
            "mark": {"type": "tick", "color": "#555555", "thickness": 1, "size": 27, "opacity": 1},
            "encoding": {
              "x": {"field": "d", "type": "nominal", "sort": ["1","2","3","4","5"], "scale": {"paddingInner": 0, "paddingOuter": 0}, "axis": {"title": null, "labelAngle": 0, "labelFontSize": 9, "labelFontWeight": "bold", "labelColor": "black", "tickSize": 3, "tickColor": "black", "domain": false, "labelPadding": 2}},
              "y": {"field": "v", "type": "quantitative", "scale": {"domain": [0, 10], "nice": false}, "axis": {"title": null, "values": [0,1,2,3,4,5,6,7,8,9,10], "format": "d", "tickCount": 20, "labelFontSize": 8, "labelFontWeight": "bold", "labelColor": "black", "tickSize": 4, "tickColor": "black", "domain": false, "labelPadding": 1, "labelOverlap": false}}
            }
          },
          {
            "transform": [{"filter": "datum.g == 'S'"}],
            "mark": {"type": "text", "fontSize": 6, "color": "#444444", "dy": -4},
            "encoding": {
              "x": {"field": "d", "type": "nominal", "sort": ["1","2","3","4","5"]},
              "y": {"field": "v", "type": "quantitative"},
              "text": {"field": "lab"}
            }
          },
          {
            "transform": [{"filter": "datum.g == 'F'"}, {"calculate": "datum.g + datum.r", "as": "k"}],
            "mark": {"type": "point", "shape": "circle", "filled": true, "size": 18, "opacity": 1},
            "encoding": {
              "x": {"field": "d", "type": "nominal", "sort": ["1","2","3","4","5"]},
              "xOffset": {"field": "k", "type": "nominal", "scale": {"domain": ["_a","_b","_c","F3","F1","Fm","F4","F2","_m","O3","O1","Om","O4","O2","_d","_e","_f"]}},
              "y": {"field": "v", "type": "quantitative"},
              "color": {"field": "s", "type": "nominal", "scale": {"domain": ["top", "bot"], "range": ["#dd1111", "#1515ee"]}, "legend": null}
            }
          },
          {
            "transform": [{"filter": "datum.g == 'O'"}, {"calculate": "datum.g + datum.r", "as": "k"}],
            "mark": {"type": "point", "shape": "circle", "filled": false, "size": 16, "strokeWidth": 1.2, "opacity": 1},
            "encoding": {
              "x": {"field": "d", "type": "nominal", "sort": ["1","2","3","4","5"]},
              "xOffset": {"field": "k", "type": "nominal"},
              "y": {"field": "v", "type": "quantitative"},
              "color": {"field": "s", "type": "nominal", "legend": null}
            }
          },
          {
            "transform": [
              {"filter": "datum.g == 'F' || datum.g == 'O'"},
              {"aggregate": [{"op": "mean", "field": "v", "as": "v"}], "groupby": ["s", "t", "d", "g"]},
              {"calculate": "datum.g + 'm'", "as": "k"}
            ],
            "mark": {"type": "tick", "color": "black", "thickness": 2, "size": 9, "opacity": 1},
            "encoding": {
              "x": {"field": "d", "type": "nominal", "sort": ["1","2","3","4","5"]},
              "xOffset": {"field": "k", "type": "nominal"},
              "y": {"field": "v", "type": "quantitative"}
            }
          },
          {
            "transform": [{"filter": "datum.g == 'S' && datum.d == '1'"}],
            "mark": {"type": "point", "filled": false, "size": 144, "stroke": "#333333", "strokeWidth": 1, "opacity": 1},
            "encoding": {
              "x": {"field": "d", "type": "nominal", "sort": ["1","2","3","4","5"], "bandPosition": 0},
              "y": {"datum": 9.2, "type": "quantitative"},
              "shape": {"field": "t", "type": "nominal", "legend": null, "scale": {"domain": ["Nasopharynx", "Nasopharynx Lavage", "Lung", "Blood"], "range": ["M0.35,-1H9.5V1H0.35Z", "M0.35,-1H14.6V1H0.35Z", "M0.35,-1H4.0V1H0.35Z", "M0.35,-1H4.5V1H0.35Z"]}}
            }
          },
          {
            "transform": [{"filter": "datum.g == 'S' && datum.d == '1'"}],
            "mark": {"type": "text", "align": "left", "baseline": "middle", "dx": 3.5, "fontSize": 8, "color": "#222222"},
            "encoding": {
              "x": {"field": "d", "type": "nominal", "sort": ["1","2","3","4","5"], "bandPosition": 0},
              "y": {"datum": 9.2, "type": "quantitative"},
              "text": {"field": "t"}
            }
          }
        ]
      }
    },
    {
      "width": 646,
      "height": 224,
      "view": {"stroke": null},
      "title": {"text": "B)", "anchor": "start", "frame": "bounds", "offset": -25, "fontSize": 20, "fontWeight": "bold", "color": "black"},
      "layer": [
        {
          "data": {"name": "deaths"},
          "transform": [{"calculate": "(datum.grp == 'Sham' ? 'S' : 'G') + datum.a", "as": "k"}],
          "mark": {"type": "point", "shape": "circle", "filled": true, "size": 55, "opacity": 1},
          "encoding": {
            "x": {"field": "strain", "type": "nominal", "sort": ["DBL2","6303","3JYP2670","DBL5","WCH16","DBL6A","6312","10354","6324","6327"], "scale": {"paddingInner": 0, "paddingOuter": 0},
              "axis": {"title": "Pneumococcal Challenge Strains", "titleFontSize": 12, "titleFontWeight": "normal", "titleColor": "#222222", "titlePadding": 20, "labelAngle": 0, "labelFontSize": 13, "labelFontWeight": "bold", "labelColor": "#222222", "labelPadding": 8, "domainWidth": 4, "domainColor": "black", "tickWidth": 3, "tickSize": 8, "tickColor": "black"}},
            "xOffset": {"field": "k", "type": "nominal", "scale": {"domain": ["_a","_b","_c","S1","S2","S3","Sm","S4","S5","S6","_m","_n","G1","G2","G3","Gm","G4","G5","G6","_d","_e","_f"]}},
            "y": {"field": "t", "type": "quantitative", "scale": {"domain": [0, 21], "nice": false},
              "axis": {"title": "Time to Death (day)", "titleFontSize": 11, "titleFontWeight": "bold", "titleColor": "#222222", "titlePadding": 8, "values": [0,3,6,9,12,15,18,21], "format": "d", "tickCount": 20, "labelOverlap": false, "labelFontSize": 13, "labelFontWeight": "bold", "labelColor": "#222222", "domainWidth": 4, "domainColor": "black", "tickWidth": 3, "tickSize": 7, "tickColor": "black", "labelPadding": 2}},
            "color": {"field": "grp", "type": "nominal", "scale": {"domain": ["Sham", "GlpO + PncO"], "range": ["#dd1111", "#1515ee"]},
              "legend": {"title": null, "orient": "none", "legendX": 538, "legendY": 55, "labelFontSize": 13, "labelColor": "#333333", "symbolType": "circle", "symbolSize": 70, "rowPadding": 7, "labelOffset": 12}}
          }
        },
        {
          "data": {"name": "deaths"},
          "transform": [
            {"aggregate": [{"op": "mean", "field": "t", "as": "t"}], "groupby": ["strain", "grp"]},
            {"calculate": "(datum.grp == 'Sham' ? 'S' : 'G') + 'm'", "as": "k"}
          ],
          "mark": {"type": "tick", "color": "black", "thickness": 4, "size": 16, "opacity": 1},
          "encoding": {
            "x": {"field": "strain", "type": "nominal", "sort": ["DBL2","6303","3JYP2670","DBL5","WCH16","DBL6A","6312","10354","6324","6327"]},
            "xOffset": {"field": "k", "type": "nominal"},
            "y": {"field": "t", "type": "quantitative"}
          }
        },
        {
          "data": {"name": "surv"},
          "mark": {"type": "point", "shape": "square", "filled": false, "size": 500, "stroke": "black", "strokeWidth": 2.5, "opacity": 1},
          "encoding": {
            "x": {"field": "strain", "type": "nominal", "sort": ["DBL2","6303","3JYP2670","DBL5","WCH16","DBL6A","6312","10354","6324","6327"]},
            "y": {"datum": 23.4, "type": "quantitative"}
          }
        },
        {
          "data": {"name": "surv"},
          "mark": {"type": "text", "fontSize": 13, "color": "#222222", "baseline": "middle"},
          "encoding": {
            "x": {"field": "strain", "type": "nominal", "sort": ["DBL2","6303","3JYP2670","DBL5","WCH16","DBL6A","6312","10354","6324","6327"]},
            "y": {"datum": 23.4, "type": "quantitative"},
            "text": {"field": "surv"}
          }
        },
        {
          "data": {"name": "surv"},
          "transform": [{"filter": "datum.strain == 'DBL2'"}],
          "mark": {"type": "rule", "color": "black", "strokeWidth": 2.5},
          "encoding": {"y": {"datum": -3.9, "type": "quantitative"}}
        }
      ]
    }
  ],
  "spacing": 20,
  "resolve": {"scale": {"color": "independent", "xOffset": "independent", "shape": "independent", "x": "independent", "y": "independent"}}
}
